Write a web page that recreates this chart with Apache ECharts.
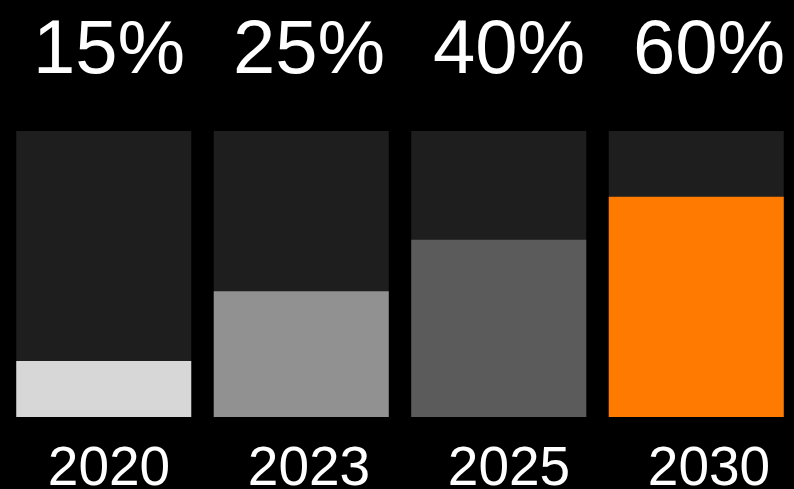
<!DOCTYPE html>
<html><head><meta charset="utf-8">
<script src="https://cdn.jsdelivr.net/npm/echarts@6/dist/echarts.min.js"></script>
<style>html,body{margin:0;padding:0;background:#000}#c{width:794px;height:489px}</style>
</head><body><div id="c"></div>
<script>
const years = ['2020', '2023', '2025', '2030'];
const shareLabels = ['15%', '25%', '40%', '60%'];
const fillValues = [19.6, 44, 62, 77];
const fillColors = ['#d7d7d7', '#919191', '#5b5b5b', '#ff7a00'];

const chart = echarts.init(document.getElementById('c'), null, {renderer: 'canvas'});
const font = 'Liberation Sans, Arial, Helvetica, sans-serif';
chart.setOption({
  backgroundColor: '#000000',
  animation: false,
  grid: [
    {left: 5, width: 790, top: 131, height: 286, outerBoundsMode: 'none', containLabel: false},
    {left: 9, width: 800, top: 131, height: 286, outerBoundsMode: 'none', containLabel: false}
  ],
  xAxis: [
    {type: 'category', gridIndex: 0, data: years, show: false},
    {type: 'category', gridIndex: 1, data: shareLabels, position: 'top',
     axisLine: {show: false}, axisTick: {show: false}, splitLine: {show: false},
     axisLabel: {color: '#ffffff', fontSize: 76, fontFamily: font, margin: 41, interval: 0}},
    {type: 'category', gridIndex: 1, data: years, position: 'bottom',
     axisLine: {show: false}, axisTick: {show: false}, splitLine: {show: false},
     axisLabel: {color: '#ffffff', fontSize: 55, fontFamily: font, margin: 25, interval: 0}}
  ],
  yAxis: [
    {type: 'value', gridIndex: 0, min: 0, max: 100, show: false},
    {type: 'value', gridIndex: 1, min: 0, max: 100, show: false}
  ],
  series: [{
    type: 'bar',
    xAxisIndex: 0, yAxisIndex: 0,
    barWidth: 175,
    showBackground: true,
    backgroundStyle: {color: '#1e1e1e'},
    data: fillValues.map((v, i) => ({value: v, itemStyle: {color: fillColors[i]}}))
  }]
});
</script></body></html>
